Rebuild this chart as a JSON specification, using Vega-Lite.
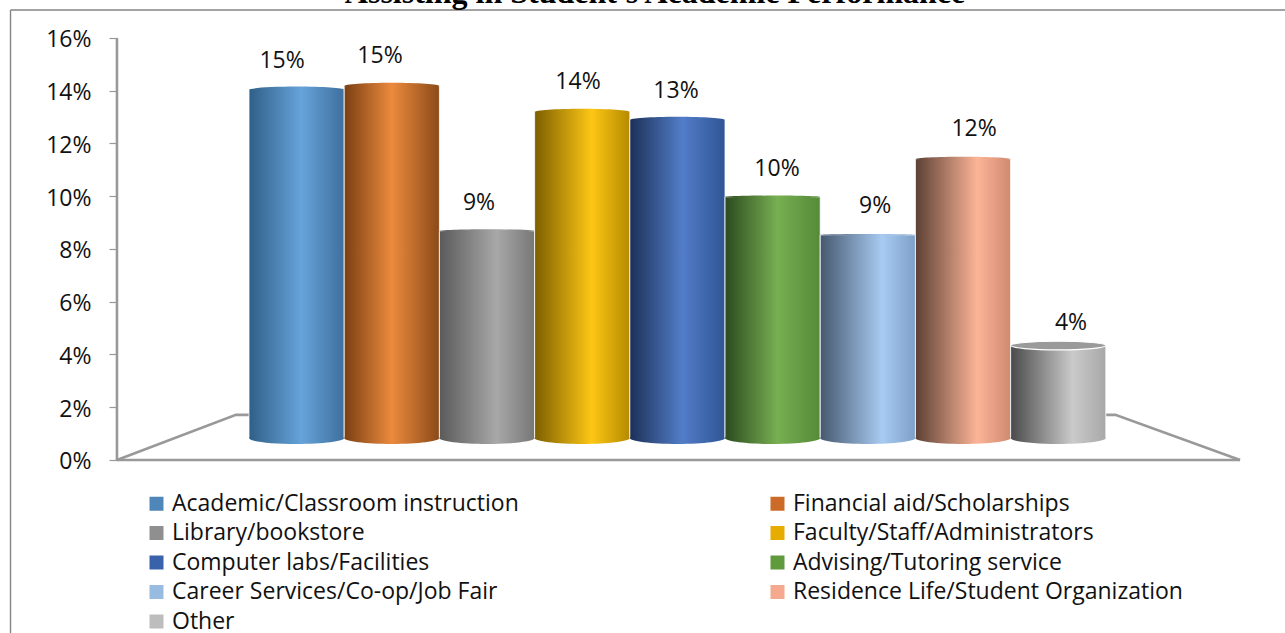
{
"$schema":"https://vega.github.io/schema/vega-lite/v6.json",
"width":1285,"height":633,"padding":0,"autosize":{"type":"none"},"background":"white",
"config":{"view":{"stroke":null},"font":"Open Sans"},
"datasets":{
"heading":[{"text":"Assisting in Student's Academic Performance","x":4.265,"y":17.327}],
"bars":[
{"category":"Academic/Classroom instruction","start":0,"end":1,"center":0.5,"top":14.03,"base":0.83,"label":"15%","labelX":0.347,"labelY":15.17},
{"category":"Financial aid/Scholarships","start":1,"end":2,"center":1.5,"top":14.18,"base":0.83,"label":"15%","labelX":1.376,"labelY":15.36},
{"category":"Library/bookstore","start":2,"end":3,"center":2.5,"top":8.68,"base":0.83,"label":"9%","labelX":2.416,"labelY":9.78},
{"category":"Faculty/Staff/Administrators","start":3,"end":4,"center":3.5,"top":13.19,"base":0.83,"label":"14%","labelX":3.456,"labelY":14.37},
{"category":"Computer labs/Facilities","start":4,"end":5,"center":4.5,"top":12.89,"base":0.83,"label":"13%","labelX":4.485,"labelY":14.03},
{"category":"Advising/Tutoring service","start":5,"end":6,"center":5.5,"top":9.97,"base":0.83,"label":"10%","labelX":5.546,"labelY":11.07},
{"category":"Career Services/Co-op/Job Fair","start":6,"end":7,"center":6.5,"top":8.53,"base":0.83,"label":"9%","labelX":6.576,"labelY":9.67},
{"category":"Residence Life/Student Organization","start":7,"end":8,"center":7.5,"top":11.41,"base":0.83,"label":"12%","labelX":7.616,"labelY":12.59},
{"category":"Other","start":8,"end":9,"center":8.5,"top":4.34,"base":0.83,"label":"4%","labelX":8.634,"labelY":5.23}
],
"lines":[
{"part":"frameTop","x":-2.505,"y":17.06,"o":0},{"part":"frameTop","x":10.882,"y":17.06,"o":1},
{"part":"frameLeft","x":-2.505,"y":17.06,"o":0},{"part":"frameLeft","x":-2.505,"y":-6.56,"o":1},
{"part":"axisY","x":-1.387,"y":16,"o":0},{"part":"axisY","x":-1.387,"y":0,"o":1},
{"part":"axisX","x":-1.387,"y":0,"o":0},{"part":"axisX","x":10.41,"y":0,"o":1},
{"part":"floor","x":-1.387,"y":0,"o":0},{"part":"floor","x":-0.137,"y":1.71,"o":1},{"part":"floor","x":0.1,"y":1.71,"o":2},
{"part":"floor2","x":9.0,"y":1.71,"o":0},{"part":"floor2","x":9.1,"y":1.71,"o":1},{"part":"floor2","x":10.41,"y":0,"o":2}
]},
"data":{"name":"bars"},
"layer":[
{"data":{"name":"lines"},"transform":[{"filter":"indexof(datum.part,'frame')==0"}],
 "mark":{"type":"line","color":"#858585","strokeWidth":1.4},
 "encoding":{"x":{"field":"x","type":"quantitative","scale":{"domain":[-2.6155,10.882],"nice":false,"zero":false},"axis":null},
  "y":{"field":"y","type":"quantitative","scale":{"domain":[-6.56,17.44],"nice":false,"zero":false},
   "axis":{"orient":"left","offset":-117,"values":[0,2,4,6,8,10,12,14,16],"labelExpr":"datum.value+'%'","grid":false,"domain":false,"title":null,"tickColor":"#999999","tickSize":8,"tickWidth":1.2,"labelFont":"Open Sans","labelFontSize":23,"labelColor":"#111111","labelPadding":18,"labelOffset":2}},
  "detail":{"field":"part"},"order":{"field":"o"}}},
{"data":{"name":"lines"},"transform":[{"filter":"indexof(datum.part,'frame')!=0"}],
 "mark":{"type":"line","color":"#999999","strokeWidth":2.6},
 "encoding":{"x":{"field":"x","type":"quantitative"},"y":{"field":"y","type":"quantitative"},"detail":{"field":"part"},"order":{"field":"o"}}},
{"data":{"name":"heading"},
 "mark":{"type":"text","font":"Liberation Serif","fontWeight":"bold","fontSize":32,"color":"#000000","align":"center","baseline":"alphabetic"},
 "encoding":{"x":{"field":"x","type":"quantitative"},"y":{"field":"y","type":"quantitative"},"text":{"field":"text"}}},
{"mark":{"type":"point","filled":true,"size":0,"opacity":0},
 "encoding":{"x":{"field":"start","type":"quantitative"},"y":{"field":"base","type":"quantitative"},
  "color":{"field":"category","type":"nominal","sort":null,
   "scale":{"domain":["Academic/Classroom instruction","Library/bookstore","Computer labs/Facilities","Career Services/Co-op/Job Fair","Other","Financial aid/Scholarships","Faculty/Staff/Administrators","Advising/Tutoring service","Residence Life/Student Organization"],
    "range":["#4f86ba","#8f8f8f","#3a62aa","#98bbe0","#bdbdbd","#cc6a28","#e6ac00","#5f9a3c","#f5a98e"]},
   "legend":{"orient":"none","legendX":145,"legendY":492,"columns":2,"title":null,"symbolType":"square","symbolSize":196,"symbolOpacity":1,"symbolStrokeWidth":0,"labelFont":"Open Sans","labelFontSize":23,"labelColor":"#111111","labelOffset":4,"labelLimit":500,"columnPadding":204,"rowPadding":5.5,"gridAlign":"all","padding":0}}}},

{"transform":[{"filter":"datum.start==0"}],"layer":[
{"mark":{"type":"rect","stroke":"white","strokeWidth":0.8,"fill":{"gradient":"linear","x1":0,"y1":0,"x2":1,"y2":0,"stops":[{"offset":0,"color":"#2f5f88"},{"offset":0.55,"color":"#66a3da"},{"offset":1,"color":"#3e6f9e"}]}},"encoding":{"x":{"field":"start","type":"quantitative"},"x2":{"field":"end"},"y":{"field":"top","type":"quantitative"},"y2":{"field":"base"}}},
{"mark":{"type":"point","size":9063,"filled":true,"opacity":1,"shape":"M-1,0 A1,0.125 0 0 1 1,0 A1,0.125 0 0 1 -1,0 Z","fill":{"gradient":"linear","x1":0,"y1":0,"x2":1,"y2":0,"stops":[{"offset":0,"color":"#2f5f88"},{"offset":0.55,"color":"#66a3da"},{"offset":1,"color":"#3e6f9e"}]}},"encoding":{"x":{"field":"center","type":"quantitative"},"y":{"field":"base","type":"quantitative"}}},
{"mark":{"type":"point","size":9063,"filled":true,"opacity":1,"shape":"M-1,0 A1,0.07 0 0 1 1,0 A1,0.07 0 0 1 -1,0 Z","fill":{"gradient":"linear","x1":0,"y1":0,"x2":1,"y2":0,"stops":[{"offset":0,"color":"#2f5f88"},{"offset":0.55,"color":"#66a3da"},{"offset":1,"color":"#3e6f9e"}]}},"encoding":{"x":{"field":"center","type":"quantitative"},"y":{"field":"top","type":"quantitative"}}}
]},
{"transform":[{"filter":"datum.start==1"}],"layer":[
{"mark":{"type":"rect","stroke":"white","strokeWidth":0.8,"fill":{"gradient":"linear","x1":0,"y1":0,"x2":1,"y2":0,"stops":[{"offset":0,"color":"#7a3f12"},{"offset":0.5,"color":"#ec8a3e"},{"offset":1,"color":"#8a4a18"}]}},"encoding":{"x":{"field":"start","type":"quantitative"},"x2":{"field":"end"},"y":{"field":"top","type":"quantitative"},"y2":{"field":"base"}}},
{"mark":{"type":"point","size":9063,"filled":true,"opacity":1,"shape":"M-1,0 A1,0.125 0 0 1 1,0 A1,0.125 0 0 1 -1,0 Z","fill":{"gradient":"linear","x1":0,"y1":0,"x2":1,"y2":0,"stops":[{"offset":0,"color":"#7a3f12"},{"offset":0.5,"color":"#ec8a3e"},{"offset":1,"color":"#8a4a18"}]}},"encoding":{"x":{"field":"center","type":"quantitative"},"y":{"field":"base","type":"quantitative"}}},
{"mark":{"type":"point","size":9063,"filled":true,"opacity":1,"shape":"M-1,0 A1,0.07 0 0 1 1,0 A1,0.07 0 0 1 -1,0 Z","fill":{"gradient":"linear","x1":0,"y1":0,"x2":1,"y2":0,"stops":[{"offset":0,"color":"#7a3f12"},{"offset":0.5,"color":"#ec8a3e"},{"offset":1,"color":"#8a4a18"}]}},"encoding":{"x":{"field":"center","type":"quantitative"},"y":{"field":"top","type":"quantitative"}}}
]},
{"transform":[{"filter":"datum.start==2"}],"layer":[
{"mark":{"type":"rect","stroke":"white","strokeWidth":0.8,"fill":{"gradient":"linear","x1":0,"y1":0,"x2":1,"y2":0,"stops":[{"offset":0,"color":"#5a5a5a"},{"offset":0.6,"color":"#a8a8a8"},{"offset":1,"color":"#777777"}]}},"encoding":{"x":{"field":"start","type":"quantitative"},"x2":{"field":"end"},"y":{"field":"top","type":"quantitative"},"y2":{"field":"base"}}},
{"mark":{"type":"point","size":9063,"filled":true,"opacity":1,"shape":"M-1,0 A1,0.125 0 0 1 1,0 A1,0.125 0 0 1 -1,0 Z","fill":{"gradient":"linear","x1":0,"y1":0,"x2":1,"y2":0,"stops":[{"offset":0,"color":"#5a5a5a"},{"offset":0.6,"color":"#a8a8a8"},{"offset":1,"color":"#777777"}]}},"encoding":{"x":{"field":"center","type":"quantitative"},"y":{"field":"base","type":"quantitative"}}},
{"mark":{"type":"point","size":9063,"filled":true,"opacity":1,"shape":"M-1,0 A1,0.04 0 0 1 1,0 A1,0.04 0 0 1 -1,0 Z","fill":{"gradient":"linear","x1":0,"y1":0,"x2":1,"y2":0,"stops":[{"offset":0,"color":"#5a5a5a"},{"offset":0.6,"color":"#a8a8a8"},{"offset":1,"color":"#777777"}]}},"encoding":{"x":{"field":"center","type":"quantitative"},"y":{"field":"top","type":"quantitative"}}}
]},
{"transform":[{"filter":"datum.start==3"}],"layer":[
{"mark":{"type":"rect","stroke":"white","strokeWidth":0.8,"fill":{"gradient":"linear","x1":0,"y1":0,"x2":1,"y2":0,"stops":[{"offset":0,"color":"#7d5f00"},{"offset":0.6,"color":"#fdc715"},{"offset":1,"color":"#b58a00"}]}},"encoding":{"x":{"field":"start","type":"quantitative"},"x2":{"field":"end"},"y":{"field":"top","type":"quantitative"},"y2":{"field":"base"}}},
{"mark":{"type":"point","size":9063,"filled":true,"opacity":1,"shape":"M-1,0 A1,0.125 0 0 1 1,0 A1,0.125 0 0 1 -1,0 Z","fill":{"gradient":"linear","x1":0,"y1":0,"x2":1,"y2":0,"stops":[{"offset":0,"color":"#7d5f00"},{"offset":0.6,"color":"#fdc715"},{"offset":1,"color":"#b58a00"}]}},"encoding":{"x":{"field":"center","type":"quantitative"},"y":{"field":"base","type":"quantitative"}}},
{"mark":{"type":"point","size":9063,"filled":true,"opacity":1,"shape":"M-1,0 A1,0.07 0 0 1 1,0 A1,0.07 0 0 1 -1,0 Z","fill":{"gradient":"linear","x1":0,"y1":0,"x2":1,"y2":0,"stops":[{"offset":0,"color":"#7d5f00"},{"offset":0.6,"color":"#fdc715"},{"offset":1,"color":"#b58a00"}]}},"encoding":{"x":{"field":"center","type":"quantitative"},"y":{"field":"top","type":"quantitative"}}}
]},
{"transform":[{"filter":"datum.start==4"}],"layer":[
{"mark":{"type":"rect","stroke":"white","strokeWidth":0.8,"fill":{"gradient":"linear","x1":0,"y1":0,"x2":1,"y2":0,"stops":[{"offset":0,"color":"#1b3057"},{"offset":0.55,"color":"#527dc8"},{"offset":1,"color":"#2f5595"}]}},"encoding":{"x":{"field":"start","type":"quantitative"},"x2":{"field":"end"},"y":{"field":"top","type":"quantitative"},"y2":{"field":"base"}}},
{"mark":{"type":"point","size":9063,"filled":true,"opacity":1,"shape":"M-1,0 A1,0.125 0 0 1 1,0 A1,0.125 0 0 1 -1,0 Z","fill":{"gradient":"linear","x1":0,"y1":0,"x2":1,"y2":0,"stops":[{"offset":0,"color":"#1b3057"},{"offset":0.55,"color":"#527dc8"},{"offset":1,"color":"#2f5595"}]}},"encoding":{"x":{"field":"center","type":"quantitative"},"y":{"field":"base","type":"quantitative"}}},
{"mark":{"type":"point","size":9063,"filled":true,"opacity":1,"shape":"M-1,0 A1,0.07 0 0 1 1,0 A1,0.07 0 0 1 -1,0 Z","fill":{"gradient":"linear","x1":0,"y1":0,"x2":1,"y2":0,"stops":[{"offset":0,"color":"#1b3057"},{"offset":0.55,"color":"#527dc8"},{"offset":1,"color":"#2f5595"}]}},"encoding":{"x":{"field":"center","type":"quantitative"},"y":{"field":"top","type":"quantitative"}}}
]},
{"transform":[{"filter":"datum.start==5"}],"layer":[
{"mark":{"type":"rect","stroke":"white","strokeWidth":0.8,"fill":{"gradient":"linear","x1":0,"y1":0,"x2":1,"y2":0,"stops":[{"offset":0,"color":"#2c4a1f"},{"offset":0.55,"color":"#77af52"},{"offset":1,"color":"#558a38"}]}},"encoding":{"x":{"field":"start","type":"quantitative"},"x2":{"field":"end"},"y":{"field":"top","type":"quantitative"},"y2":{"field":"base"}}},
{"mark":{"type":"point","size":9063,"filled":true,"opacity":1,"shape":"M-1,0 A1,0.125 0 0 1 1,0 A1,0.125 0 0 1 -1,0 Z","fill":{"gradient":"linear","x1":0,"y1":0,"x2":1,"y2":0,"stops":[{"offset":0,"color":"#2c4a1f"},{"offset":0.55,"color":"#77af52"},{"offset":1,"color":"#558a38"}]}},"encoding":{"x":{"field":"center","type":"quantitative"},"y":{"field":"base","type":"quantitative"}}},
{"mark":{"type":"point","size":9063,"filled":true,"opacity":1,"shape":"M-1,0 A1,0.03 0 0 1 1,0 A1,0.03 0 0 1 -1,0 Z","fill":{"gradient":"linear","x1":0,"y1":0,"x2":1,"y2":0,"stops":[{"offset":0,"color":"#2c4a1f"},{"offset":0.55,"color":"#77af52"},{"offset":1,"color":"#558a38"}]}},"encoding":{"x":{"field":"center","type":"quantitative"},"y":{"field":"top","type":"quantitative"}}}
]},
{"transform":[{"filter":"datum.start==6"}],"layer":[
{"mark":{"type":"rect","stroke":"white","strokeWidth":0.8,"fill":{"gradient":"linear","x1":0,"y1":0,"x2":1,"y2":0,"stops":[{"offset":0,"color":"#46586f"},{"offset":0.65,"color":"#a8cbf2"},{"offset":1,"color":"#7ea0c8"}]}},"encoding":{"x":{"field":"start","type":"quantitative"},"x2":{"field":"end"},"y":{"field":"top","type":"quantitative"},"y2":{"field":"base"}}},
{"mark":{"type":"point","size":9063,"filled":true,"opacity":1,"shape":"M-1,0 A1,0.125 0 0 1 1,0 A1,0.125 0 0 1 -1,0 Z","fill":{"gradient":"linear","x1":0,"y1":0,"x2":1,"y2":0,"stops":[{"offset":0,"color":"#46586f"},{"offset":0.65,"color":"#a8cbf2"},{"offset":1,"color":"#7ea0c8"}]}},"encoding":{"x":{"field":"center","type":"quantitative"},"y":{"field":"base","type":"quantitative"}}},
{"mark":{"type":"point","size":9063,"filled":true,"opacity":1,"shape":"M-1,0 A1,0.02 0 0 1 1,0 A1,0.02 0 0 1 -1,0 Z","fill":{"gradient":"linear","x1":0,"y1":0,"x2":1,"y2":0,"stops":[{"offset":0,"color":"#46586f"},{"offset":0.65,"color":"#a8cbf2"},{"offset":1,"color":"#7ea0c8"}]}},"encoding":{"x":{"field":"center","type":"quantitative"},"y":{"field":"top","type":"quantitative"}}}
]},
{"transform":[{"filter":"datum.start==7"}],"layer":[
{"mark":{"type":"rect","stroke":"white","strokeWidth":0.8,"fill":{"gradient":"linear","x1":0,"y1":0,"x2":1,"y2":0,"stops":[{"offset":0,"color":"#5c4034"},{"offset":0.65,"color":"#fdb497"},{"offset":1,"color":"#cf8a70"}]}},"encoding":{"x":{"field":"start","type":"quantitative"},"x2":{"field":"end"},"y":{"field":"top","type":"quantitative"},"y2":{"field":"base"}}},
{"mark":{"type":"point","size":9063,"filled":true,"opacity":1,"shape":"M-1,0 A1,0.125 0 0 1 1,0 A1,0.125 0 0 1 -1,0 Z","fill":{"gradient":"linear","x1":0,"y1":0,"x2":1,"y2":0,"stops":[{"offset":0,"color":"#5c4034"},{"offset":0.65,"color":"#fdb497"},{"offset":1,"color":"#cf8a70"}]}},"encoding":{"x":{"field":"center","type":"quantitative"},"y":{"field":"base","type":"quantitative"}}},
{"mark":{"type":"point","size":9063,"filled":true,"opacity":1,"shape":"M-1,0 A1,0.05 0 0 1 1,0 A1,0.05 0 0 1 -1,0 Z","fill":{"gradient":"linear","x1":0,"y1":0,"x2":1,"y2":0,"stops":[{"offset":0,"color":"#5c4034"},{"offset":0.65,"color":"#fdb497"},{"offset":1,"color":"#cf8a70"}]}},"encoding":{"x":{"field":"center","type":"quantitative"},"y":{"field":"top","type":"quantitative"}}}
]},
{"transform":[{"filter":"datum.start==8"}],"layer":[
{"mark":{"type":"rect","stroke":"white","strokeWidth":0.8,"fill":{"gradient":"linear","x1":0,"y1":0,"x2":1,"y2":0,"stops":[{"offset":0,"color":"#4a4a4a"},{"offset":0.65,"color":"#cacaca"},{"offset":1,"color":"#a8a8a8"}]}},"encoding":{"x":{"field":"start","type":"quantitative"},"x2":{"field":"end"},"y":{"field":"top","type":"quantitative"},"y2":{"field":"base"}}},
{"mark":{"type":"point","size":9063,"filled":true,"opacity":1,"shape":"M-1,0 A1,0.125 0 0 1 1,0 A1,0.125 0 0 1 -1,0 Z","fill":{"gradient":"linear","x1":0,"y1":0,"x2":1,"y2":0,"stops":[{"offset":0,"color":"#4a4a4a"},{"offset":0.65,"color":"#cacaca"},{"offset":1,"color":"#a8a8a8"}]}},"encoding":{"x":{"field":"center","type":"quantitative"},"y":{"field":"base","type":"quantitative"}}},
{"mark":{"type":"point","size":9063,"filled":true,"opacity":1,"shape":"M-1,0 A1,0.09 0 0 1 1,0 A1,0.09 0 0 1 -1,0 Z","fill":"#9a9a9a","stroke":"white","strokeWidth":1.2},"encoding":{"x":{"field":"center","type":"quantitative"},"y":{"field":"top","type":"quantitative"}}}
]},
{"mark":{"type":"text","font":"Open Sans","fontSize":23,"color":"#111111","align":"center","baseline":"middle","dy":1},
 "encoding":{"x":{"field":"labelX","type":"quantitative"},"y":{"field":"labelY","type":"quantitative"},"text":{"field":"label"}}}
]}
